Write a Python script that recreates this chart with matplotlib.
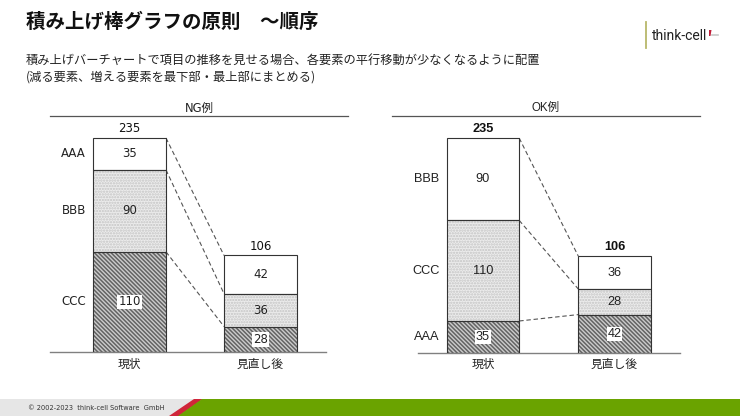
import matplotlib
matplotlib.use("Agg")
import matplotlib.pyplot as plt
from matplotlib.patches import Polygon
from matplotlib.lines import Line2D

plt.rcParams['font.family'] = ['Noto Sans CJK JP', 'DejaVu Sans']
plt.rcParams['hatch.linewidth'] = 1.1

# ---------------- data ----------------
categories = ['現状', '見直し後']

ng_series = ['CCC', 'BBB', 'AAA']          # bottom -> top
ng_values = [[110, 28], [90, 36], [35, 42]]

ok_series = ['AAA', 'CCC', 'BBB']          # bottom -> top
ok_values = [[35, 42], [110, 28], [90, 36]]

ng_title = 'NG例'
ok_title = 'OK例'

title = '積み上げ棒グラフの原則　～順序'
subtitle1 = '積み上げバーチャートで項目の推移を見せる場合、各要素の平行移動が少なくなるように配置'
subtitle2 = '(減る要素、増える要素を最下部・最上部にまとめる)'
footer = '© 2002-2023  think-cell Software  GmbH'

W, H = 740, 416
fig = plt.figure(figsize=(W / 100, H / 100), dpi=100)

# background overlay in pixel coordinates
bg = fig.add_axes([0, 0, 1, 1], zorder=0)
bg.set_xlim(0, W)
bg.set_ylim(H, 0)
bg.axis('off')

bg.text(26, 22, title, fontsize=14, fontweight='bold', va='center', ha='left', color='#111111')
bg.text(26, 60, subtitle1, fontsize=8.8, va='center', ha='left', color='#222222')
bg.text(26, 77, subtitle2, fontsize=8.8, va='center', ha='left', color='#222222')

# logo
bg.add_line(Line2D([646, 646], [22, 48], color='#b8b86a', lw=1.3))
bg.text(652, 36, 'think-cell', fontsize=10, va='center', ha='left', color='#222222',
        family=['Roboto'])
bg.add_patch(Polygon([(709, 30), (711.5, 30), (710.5, 36), (709, 36)], closed=True,
                     color='#c0203a', lw=0))
bg.add_line(Line2D([712, 718], [35, 35], color='#c8c8c8', lw=1.2))

# footer
bg.add_patch(Polygon([(0, 399), (196, 399), (171, 416), (0, 416)], closed=True,
                     color='#e6e6e6', lw=0))
bg.add_patch(Polygon([(194, 399), (203, 399), (179, 416), (169, 416)], closed=True,
                     color='#d0263a', lw=0))
bg.add_patch(Polygon([(202, 399), (740, 399), (740, 416), (178, 416)], closed=True,
                     color='#6aa300', lw=0))
bg.text(28, 408, footer, fontsize=4.8, va='center', ha='left', color='#333333',
        family=['DejaVu Sans'])

# section headers
bg.add_line(Line2D([50, 348], [116, 116], color='#555555', lw=0.9))
bg.text(199, 108, ng_title, fontsize=8.3, ha='center', va='center',
        family=['DejaVu Sans', 'Noto Sans CJK JP'], color='#222222')
bg.add_line(Line2D([392, 700], [116, 116], color='#555555', lw=0.9))
bg.text(546, 108, ok_title, fontsize=8.3, ha='center', va='center',
        family=['Liberation Sans', 'Noto Sans CJK JP'], color='#222222')

PX_PER_UNIT = 0.9106
styles = [
    dict(facecolor='#cccccc', hatch='\\\\\\\\\\\\\\\\', hc='#636363', box=True),   # bottom
    dict(facecolor='#ececec', hatch='......', hc='#c4c4c4', box=False),             # middle
    dict(facecolor='white', hatch=None, hc='white', box=False),                     # top
]


def px_axes(x0, x1, y_top, y_bot):
    return [x0 / W, 1 - y_bot / H, (x1 - x0) / W, (y_bot - y_top) / H]


def draw_chart(ax, series, values, xlim, width, fam, total_bold, fs):
    ax.set_xlim(*xlim)
    ax.set_ylim(0, 236 / PX_PER_UNIT)
    xs = list(range(len(categories)))
    bottoms = [0] * len(categories)
    cum_tops = []
    for i, (name, vals) in enumerate(zip(series, values)):
        st = styles[i]
        ax.bar(xs, vals, width, bottom=bottoms, color=st['facecolor'],
               edgecolor=st['hc'], hatch=st['hatch'], linewidth=0, zorder=2)
        ax.bar(xs, vals, width, bottom=bottoms, fill=False,
               edgecolor='#333333', linewidth=0.8, zorder=3)
        for x, v, b in zip(xs, vals, bottoms):
            kw = {}
            if st['box']:
                kw['bbox'] = dict(facecolor='white', edgecolor='none', pad=0.6)
            ax.text(x, b + v / 2, str(v), ha='center', va='center', fontsize=fs,
                    family=fam, color='#222222', zorder=4, **kw)
        # series label to the left of first bar
        ax.text(xs[0] - width / 2 - 0.055, bottoms[0] + vals[0] / 2, name,
                ha='right', va='center', fontsize=fs, family=fam, color='#222222')
        bottoms = [b + v for b, v in zip(bottoms, vals)]
        cum_tops.append(list(bottoms))
    # totals
    for x, t in zip(xs, bottoms):
        ax.text(x, t + 3, str(t), ha='center', va='bottom', fontsize=fs, family=fam,
                color='#111111', fontweight='bold' if total_bold else 'normal')
    # connectors
    for tops in cum_tops:
        ax.plot([xs[0] + width / 2, xs[1] - width / 2], [tops[0], tops[1]],
                color='#555555', lw=0.8, linestyle=(0, (4, 2.5)), zorder=1)
    ax.set_xticks(xs)
    ax.set_xticklabels(categories, fontsize=8.5, family=[fam[0], 'Noto Sans CJK JP'],
                       color='#222222')
    ax.tick_params(axis='x', length=0, pad=4)
    ax.set_yticks([])
    for s in ['top', 'left', 'right']:
        ax.spines[s].set_visible(False)
    ax.spines['bottom'].set_color('#808080')
    ax.spines['bottom'].set_linewidth(1.0)
    ax.patch.set_alpha(0)


ax1 = fig.add_axes(px_axes(50, 326, 116, 352), zorder=2)
draw_chart(ax1, ng_series, ng_values, (-0.607, 1.5), 0.557,
           ['DejaVu Sans', 'Noto Sans CJK JP'], False, 8.5)

ax2 = fig.add_axes(px_axes(418, 680, 116, 353), zorder=2)
draw_chart(ax2, ok_series, ok_values, (-0.494, 1.498), 0.551,
           ['Liberation Sans', 'Noto Sans CJK JP'], True, 9.2)

fig.savefig('out.png', dpi=100)
